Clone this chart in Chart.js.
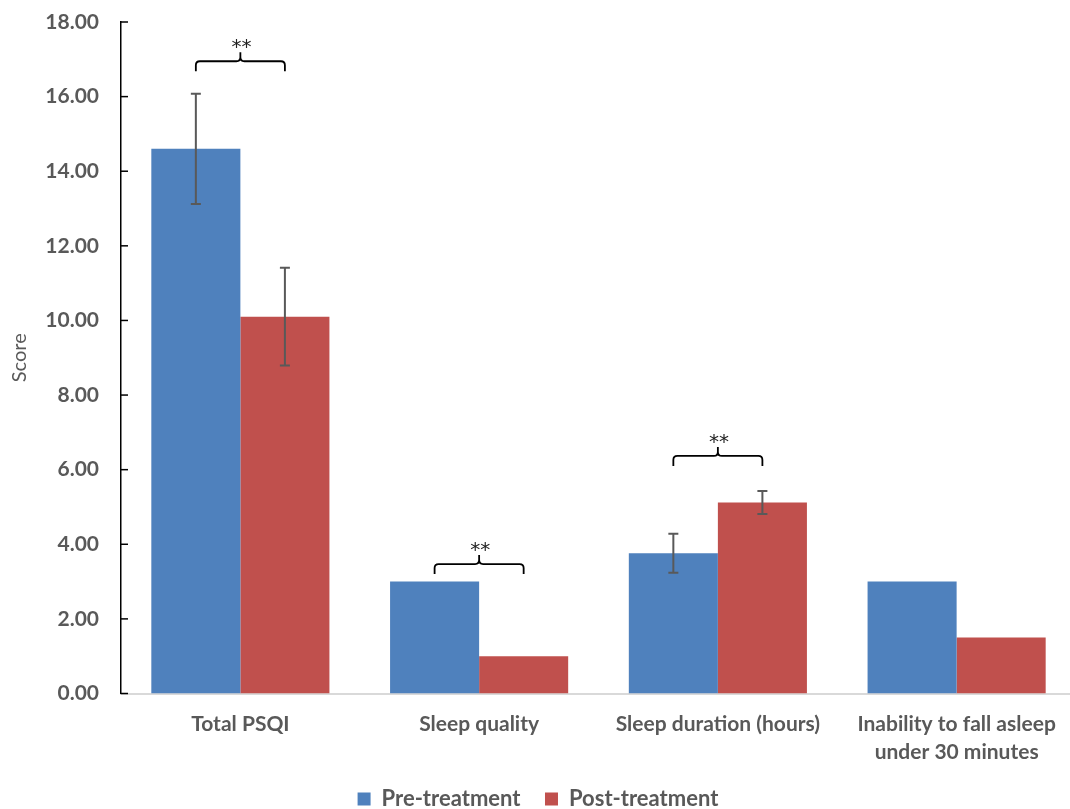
<!DOCTYPE html>
<html>
<head>
<meta charset="utf-8">
<script src="https://cdn.jsdelivr.net/npm/chart.js@4.4.1/dist/chart.umd.min.js"></script>
<style>
  html, body { margin: 0; padding: 0; background: #fff; overflow: hidden; }
  #wrap { width: 1080px; height: 820px; position: relative; }
</style>
</head>
<body>
<div id="wrap"><canvas id="chart"></canvas></div>
<script>
// datos
const categorias = [
  "Total PSQI",
  "Sleep quality",
  "Sleep duration (hours)",
  ["Inability to fall asleep", "under 30 minutes"]
];
const preTratamiento = [14.6, 3.0, 3.76, 3.0];
const postTratamiento = [10.1, 1.0, 5.12, 1.5];
// desviaciones (null = sin barra de error)
const preError = [1.48, null, 0.52, null];
const postError = [1.31, null, 0.31, null];
// llaves de significancia: categoria y nivel (en unidades del eje)
const llaveCategorias = [0, 1, 2];
const llaveNiveles = [16.68, 3.2, 6.1];
const llaveTexto = "**";
const ticksY = [0, 2, 4, 6, 8, 10, 12, 14, 16, 18];

const GRIS = "#595959";
const FUENTE = "Lato, 'Open Sans', sans-serif";

// barras de error
const pluginErrores = {
  id: "errores",
  afterDatasetsDraw(chart) {
    const ctx = chart.ctx;
    const y = chart.scales.y;
    const errores = [preError, postError];
    const valores = [preTratamiento, postTratamiento];
    ctx.save();
    ctx.strokeStyle = GRIS;
    ctx.lineWidth = 2;
    errores.forEach((errs, d) => {
      const meta = chart.getDatasetMeta(d);
      errs.forEach((e, i) => {
        if (e == null) return;
        const x = meta.data[i].x;
        const yTop = y.getPixelForValue(valores[d][i] + e);
        const yBot = y.getPixelForValue(valores[d][i] - e);
        ctx.beginPath();
        ctx.moveTo(x, yTop); ctx.lineTo(x, yBot);
        ctx.moveTo(x - 5, yTop); ctx.lineTo(x + 5, yTop);
        ctx.moveTo(x - 5, yBot); ctx.lineTo(x + 5, yBot);
        ctx.stroke();
      });
    });
    ctx.restore();
  }
};

// llaves con asteriscos
const pluginLlaves = {
  id: "llaves",
  afterDatasetsDraw(chart) {
    const ctx = chart.ctx;
    const y = chart.scales.y;
    const m0 = chart.getDatasetMeta(0);
    const m1 = chart.getDatasetMeta(1);
    ctx.save();
    ctx.strokeStyle = "#000";
    ctx.lineWidth = 1.8;
    llaveCategorias.forEach((c, k) => {
      const x1 = m0.data[c].x;
      const x2 = m1.data[c].x;
      const xm = (x1 + x2) / 2;
      const yb = y.getPixelForValue(llaveNiveles[k]);
      const yh = yb - 10;
      const r = 4;
      ctx.beginPath();
      ctx.moveTo(x1, yb);
      ctx.lineTo(x1, yh + r);
      ctx.quadraticCurveTo(x1, yh, x1 + r, yh);
      ctx.lineTo(xm - r, yh);
      ctx.quadraticCurveTo(xm, yh, xm, yh - r);
      ctx.lineTo(xm, yh - 9);
      ctx.moveTo(xm, yh - r);
      ctx.quadraticCurveTo(xm, yh, xm + r, yh);
      ctx.lineTo(x2 - r, yh);
      ctx.quadraticCurveTo(x2, yh, x2, yh + r);
      ctx.lineTo(x2, yb);
      ctx.stroke();
      ctx.fillStyle = "#222";
      ctx.font = "20px 'DejaVu Sans', sans-serif";
      ctx.textAlign = "center";
      ctx.textBaseline = "alphabetic";
      ctx.fillText(llaveTexto, xm + 1, yh - 8);
    });
    ctx.restore();
  }
};

// marcas del eje y hacia adentro
const pluginMarcas = {
  id: "marcas",
  afterDraw(chart) {
    const ctx = chart.ctx;
    const y = chart.scales.y;
    const x0 = chart.chartArea.left;
    ctx.save();
    ctx.strokeStyle = "#000";
    ctx.lineWidth = 1.5;
    y.ticks.forEach((t, i) => {
      const py = y.getPixelForTick(i);
      ctx.beginPath();
      ctx.moveTo(x0, py);
      ctx.lineTo(x0 + 7, py);
      ctx.stroke();
    });
    ctx.restore();
  }
};

new Chart(document.getElementById("chart"), {
  type: "bar",
  data: {
    labels: categorias,
    datasets: [
      { label: "Pre-treatment", data: preTratamiento, backgroundColor: "#4F81BD" },
      { label: "Post-treatment", data: postTratamiento, backgroundColor: "#C0504D" }
    ]
  },
  options: {
    responsive: true,
    maintainAspectRatio: false,
    animation: false,
    layout: { padding: { top: 22, right: 4, left: 0, bottom: 0 } },
    categoryPercentage: 0.746,
    barPercentage: 1,
    plugins: {
      tooltip: { enabled: false },
      legend: {
        position: "bottom",
        labels: {
          boxWidth: 13,
          boxHeight: 13,
          padding: 24.5,
          color: GRIS,
          font: { family: FUENTE, size: 22, weight: "bold" }
        }
      }
    },
    scales: {
      x: {
        grid: { display: false, drawTicks: false },
        border: { color: "#d9d9d9", width: 2 },
        ticks: {
          color: GRIS,
          padding: 17,
          maxRotation: 0,
          autoSkip: false,
          font: { family: FUENTE, size: 21, weight: "bold", lineHeight: 1.333 }
        },
        afterFit(scale) { scale.height = 70; }
      },
      y: {
        min: 0,
        max: 18,
        afterBuildTicks(scale) { scale.ticks = ticksY.map(v => ({ value: v })); },
        grid: { display: false, drawTicks: false },
        border: { color: "#000", width: 1.5 },
        ticks: {
          color: GRIS,
          padding: 22,
          font: { family: FUENTE, size: 21, weight: "bold" },
          callback: v => Number(v).toFixed(2)
        },
        title: {
          display: true,
          text: "Score",
          color: GRIS,
          padding: { top: 8, bottom: 0 },
          font: { family: FUENTE, size: 20 }
        },
        afterFit(scale) {
          scale.width = 121;
          scale.paddingTop = 0;
          scale.paddingBottom = 0;
        }
      }
    }
  },
  plugins: [pluginErrores, pluginLlaves, pluginMarcas]
});
</script>
</body>
</html>
